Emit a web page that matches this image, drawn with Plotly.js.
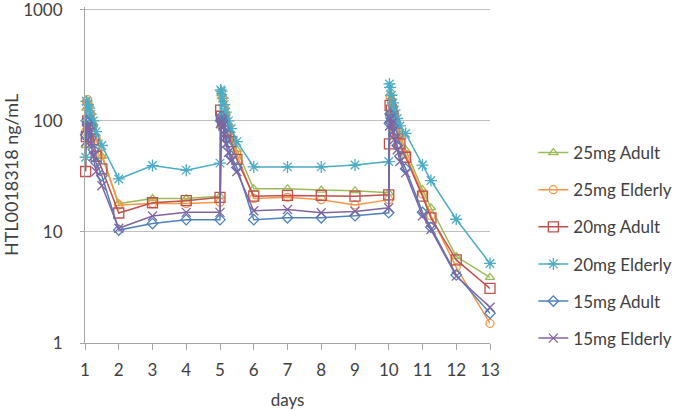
<!DOCTYPE html>
<html>
<head>
<meta charset="utf-8">
<script src="https://cdn.plot.ly/plotly-3.0.1.min.js"></script>
<style>html,body{margin:0;padding:0;background:#fff;}#chart{width:685px;height:410px;}</style>
</head>
<body>
<div id="chart"></div>
<script>
// sampling times (days)
const days = [1.02, 1.04, 1.08, 1.125, 1.17, 1.25, 1.33, 1.5, 2, 3, 4,
  5, 5.02, 5.04, 5.08, 5.125, 5.17, 5.25, 5.33, 5.5, 6, 7, 8, 9,
  10, 10.02, 10.04, 10.08, 10.125, 10.17, 10.25, 10.33, 10.5, 11, 11.25, 12, 13];

const names = ["25mg Adult", "25mg Elderly", "20mg Adult", "20mg Elderly", "15mg Adult", "15mg Elderly"];

const adult25 = [60, 130, 150, 140, 120, 95, 70, 48, 18, 20, 20,
  21, 90, 175, 165, 140, 120, 95, 75, 55, 24.5, 24.5, 23.8, 23.5,
  22.5, 100, 175, 160, 140, 120, 95, 75, 55, 24, 16.5, 6, 3.9];

const elderly25 = [80, 150, 155, 135, 115, 90, 70, 50, 17.5, 18, 18,
  18.5, 100, 180, 160, 130, 110, 90, 70, 50, 20, 20.5, 19.5, 17.5,
  19.5, 110, 165, 150, 130, 110, 90, 70, 50, 22, 14, 4.8, 1.5];

const adult20 = [35, 72, 100, 95, 85, 68, 48, 37, 14.8, 18.3, 19.1,
  20.5, 125, 110, 100, 95, 82, 72, 65, 45, 21, 21.3, 21.3, 21,
  21.6, 62, 138, 125, 110, 95, 78, 62, 47, 21, 13.4, 5.6, 3.1];

const elderly20 = [47, 150, 140, 130, 115, 100, 80, 60, 30, 39.6, 36,
  41.6, 190, 185, 160, 140, 120, 100, 85, 65, 38.5, 38.5, 38.5, 40,
  43, 215, 200, 170, 145, 125, 105, 90, 77, 40, 29, 13, 5.2];

const adult15 = [75, 100, 95, 85, 70, 55, 42, 32, 10.4, 11.9, 12.9,
  12.9, 100, 110, 100, 85, 70, 58, 48, 38, 12.9, 13.4, 13.4, 14,
  14.9, 95, 115, 105, 90, 75, 60, 48, 37, 15, 11, 4.1, 1.85];

const elderly15 = [65, 85, 90, 80, 62, 48, 35, 26, 10.8, 13.9, 15,
  15, 95, 100, 90, 75, 62, 52, 44, 35, 15.5, 15.9, 14.9, 15.3,
  16.5, 90, 105, 95, 80, 68, 55, 43, 34, 14, 10.5, 4.0, 2.1];

const xTicks = [1, 2, 3, 4, 5, 6, 7, 8, 9, 10, 11, 12, 13];
const yTicks = [1, 10, 100, 1000];

const series = [adult25, elderly25, adult20, elderly20, adult15, elderly15];
const colors = ["#9BBB59", "#F79646", "#C0504D", "#4BACC6", "#4F81BD", "#8064A2"];
const symbols = ["triangle-up-open", "circle-open", "square-open", "asterisk-open", "diamond-open", "x-thin-open"];
const sizes = [8, 8, 10, 10, 8, 9];

const FONT = "Lato, 'Open Sans', sans-serif";

const traces = series.map((vals, i) => ({
  x: days,
  y: vals,
  name: names[i],
  type: "scatter",
  mode: "lines+markers",
  cliponaxis: false,
  legendgroup: "g" + i,
  line: {color: colors[i], width: 1.5},
  marker: {symbol: symbols[i], size: sizes[i], color: colors[i], line: {color: colors[i], width: 1.3}}
}));

const layout = {
  width: 685,
  height: 410,
  margin: {l: 85, r: 195, t: 7, b: 67},
  paper_bgcolor: "#ffffff",
  plot_bgcolor: "#ffffff",
  font: {family: FONT, size: 13, color: "#404040"},
  showlegend: true,
  legend: {
    x: 1.107, xanchor: "left", y: 0.29, yanchor: "middle",
    font: {family: FONT, size: 17, color: "#404040"},
    tracegroupgap: 12,
    borderwidth: 0,
    bgcolor: "rgba(0,0,0,0)"
  },
  xaxis: {
    range: [1, 13],
    tickmode: "array",
    tickvals: xTicks,
    ticktext: xTicks.map(String),
    ticks: "outside",
    ticklen: 6,
    tickcolor: "#a6a6a6",
    showline: true,
    linecolor: "#a6a6a6",
    linewidth: 1,
    showgrid: false,
    zeroline: false,
    ticklabelstandoff: 6,
    tickfont: {family: FONT, size: 17, color: "#404040"},
    title: {text: "days", font: {family: FONT, size: 17, color: "#404040"}, standoff: 14}
  },
  yaxis: {
    type: "log",
    range: [0, 3.025],
    tickmode: "array",
    tickvals: yTicks,
    ticktext: yTicks.map(String),
    ticks: "outside",
    ticklen: 4,
    tickcolor: "#a6a6a6",
    showline: true,
    linecolor: "#a6a6a6",
    linewidth: 1,
    showgrid: true,
    gridcolor: "#bfbfbf",
    gridwidth: 1,
    zeroline: false,
    ticklabeloverflow: "allow",
    ticklabelstandoff: 14,
    tickfont: {family: FONT, size: 17, color: "#404040"},
    title: {text: "HTL0018318 ng/mL", font: {family: FONT, size: 18, color: "#404040"}, standoff: 8}
  }
};

Plotly.newPlot("chart", traces, layout, {displayModeBar: false, staticPlot: true});
</script>
</body>
</html>
